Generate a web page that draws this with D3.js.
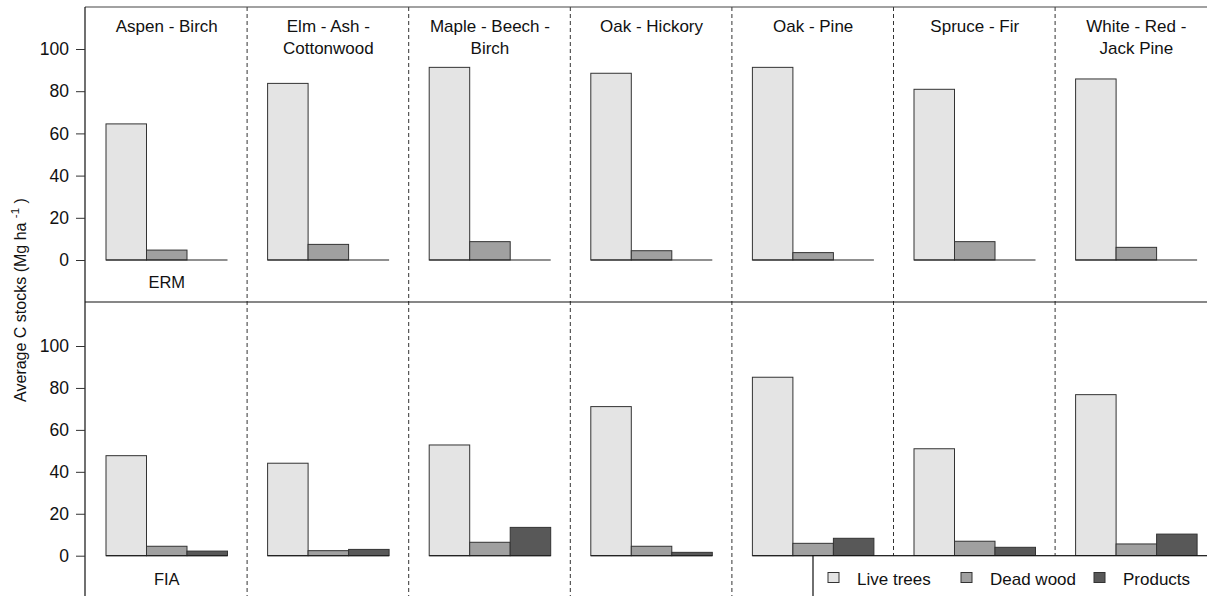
<!DOCTYPE html>
<html>
<head>
<meta charset="utf-8">
<script src="https://cdn.jsdelivr.net/npm/d3@7"></script>
<style>
  html, body { margin: 0; padding: 0; background: #fff; }
  svg { display: block; font-family: "Liberation Sans", Arial, sans-serif; }
</style>
</head>
<body>
<svg id="chart" width="1207" height="596"></svg>
<script>
// Forest type groups (panel columns) and their wrapped title lines
const forestTypes = ["Aspen - Birch", "Elm - Ash - Cottonwood", "Maple - Beech - Birch",
  "Oak - Hickory", "Oak - Pine", "Spruce - Fir", "White - Red - Jack Pine"];
const titleLines = [["Aspen - Birch"], ["Elm - Ash -", "Cottonwood"], ["Maple - Beech -", "Birch"],
  ["Oak - Hickory"], ["Oak - Pine"], ["Spruce - Fir"], ["White - Red -", "Jack Pine"]];

// Carbon pools
const pools = ["Live trees", "Dead wood", "Products"];
const poolColors = ["#e4e4e4", "#a0a0a0", "#585858"];

// Average C stocks (Mg ha-1), ERM estimates
const ermLive = [64.5, 83.7, 91.3, 88.5, 91.3, 80.9, 85.8];
const ermDead = [4.7, 7.4, 8.7, 4.4, 3.5, 8.7, 6.0];

// Average C stocks (Mg ha-1), FIA estimates
const fiaLive = [47.7, 44.1, 52.8, 71.1, 85.1, 51.0, 76.8];
const fiaDead = [4.5, 2.4, 6.4, 4.5, 5.9, 6.9, 5.6];
const fiaProducts = [2.2, 3.0, 13.5, 1.6, 8.3, 4.0, 10.3];

const yTicks = [0, 20, 40, 60, 80, 100];
const rowLabels = ["ERM", "FIA"];

const svg = d3.select("#chart");
const W = 1207, H = 596;

// Panel geometry
const frameLeft = 85, frameTop = 7, rowSplit = 302;
const panelW = 161.6;
const colX = d3.scaleBand().domain(forestTypes).range([frameLeft + 0.5, frameLeft + 0.5 + panelW * 7]);

const rows = [
  { label: rowLabels[0], y: d3.scaleLinear().domain([0, 100]).range([260, 49]),
    series: [ermLive, ermDead, null], labelY: 288 },
  { label: rowLabels[1], y: d3.scaleLinear().domain([0, 100]).range([555.7, 346]),
    series: [fiaLive, fiaDead, fiaProducts], labelY: 585 }
];

// Bars within each panel
const barX = d3.scaleBand().domain(pools).range([20.5, 20.5 + 121.5]).padding(0);

// Dashed separators between panels
svg.append("g").selectAll("line")
  .data(forestTypes.slice(1))
  .join("line")
  .attr("x1", d => colX(d)).attr("x2", d => colX(d))
  .attr("y1", frameTop).attr("y2", H)
  .attr("stroke", "#333").attr("stroke-width", 1)
  .attr("stroke-dasharray", "4,3");

// Outer frame lines
svg.append("line").attr("x1", frameLeft).attr("x2", W).attr("y1", frameTop).attr("y2", frameTop)
  .attr("stroke", "#444").attr("stroke-width", 1.2);
svg.append("line").attr("x1", frameLeft).attr("x2", W).attr("y1", rowSplit).attr("y2", rowSplit)
  .attr("stroke", "#111").attr("stroke-width", 1.2);
svg.append("line").attr("x1", frameLeft).attr("x2", frameLeft).attr("y1", frameTop).attr("y2", H)
  .attr("stroke", "#111").attr("stroke-width", 1.2);

rows.forEach(row => {
  // y axis ticks and labels
  const axis = d3.axisLeft(row.y).tickValues(yTicks).tickSize(9).tickPadding(7);
  const ag = svg.append("g").attr("transform", `translate(${frameLeft},0)`).call(axis);
  ag.select(".domain").remove();
  ag.selectAll(".tick line").attr("stroke", "#333");
  ag.selectAll(".tick text").attr("font-size", 17.5).attr("fill", "#111")
    .attr("font-family", "'Liberation Sans', Arial, sans-serif");

  forestTypes.forEach((ft, i) => {
    const g = svg.append("g").attr("transform", `translate(${colX(ft)},0)`);
    const bars = pools.map((p, k) => ({ pool: p, k, v: row.series[k] ? row.series[k][i] : null }))
      .filter(d => d.v !== null);
    g.selectAll("rect")
      .data(bars)
      .join("rect")
      .attr("x", d => barX(d.pool))
      .attr("width", barX.bandwidth())
      .attr("y", d => row.y(d.v))
      .attr("height", d => row.y(0) - row.y(d.v))
      .attr("fill", d => poolColors[d.k])
      .attr("stroke", "#333").attr("stroke-width", 1);
    // baseline under the bar group
    g.append("line")
      .attr("x1", barX.range()[0]).attr("x2", barX.range()[1])
      .attr("y1", row.y(0)).attr("y2", row.y(0))
      .attr("stroke", "#222").attr("stroke-width", 1.2);
  });

  // row label under first panel
  svg.append("text")
    .attr("x", colX(forestTypes[0]) + barX.range()[0] + 60.75)
    .attr("y", row.labelY)
    .attr("text-anchor", "middle").attr("font-size", 16.5).attr("fill", "#111")
    .text(row.label);
});

// Panel titles
forestTypes.forEach((ft, i) => {
  const t = svg.append("text")
    .attr("x", colX(ft) + barX.range()[0] + 60.75)
    .attr("y", 31.5)
    .attr("text-anchor", "middle").attr("font-size", 17).attr("fill", "#111");
  titleLines[i].forEach((line, j) => {
    t.append("tspan").attr("x", colX(ft) + barX.range()[0] + 60.75)
      .attr("dy", j === 0 ? 0 : 22.6).text(line);
  });
});

// Y axis title
const yt = svg.append("text")
  .attr("transform", "translate(26,300) rotate(-90)")
  .attr("text-anchor", "middle").attr("font-size", 16).attr("fill", "#111");
yt.append("tspan").text("Average C stocks (Mg ha ");
yt.append("tspan").attr("font-size", 11.5).attr("dy", -7.5).text("-1");
yt.append("tspan").attr("dy", 7.5).text(" )");

// Legend box
const lg = svg.append("g");
lg.append("rect").attr("x", 813).attr("y", 555.7).attr("width", W - 813 + 2).attr("height", H - 555.7 + 2)
  .attr("fill", "#fff").attr("stroke", "#111").attr("stroke-width", 1.2);
const legendX = [828, 961, 1094];
pools.forEach((p, k) => {
  lg.append("rect").attr("x", legendX[k]).attr("y", 572.5).attr("width", 11).attr("height", 10)
    .attr("fill", poolColors[k]).attr("stroke", "#333").attr("stroke-width", 1);
  lg.append("text").attr("x", legendX[k] + 29).attr("y", 585)
    .attr("font-size", 17).attr("fill", "#111").text(p);
});
</script>
</body>
</html>
